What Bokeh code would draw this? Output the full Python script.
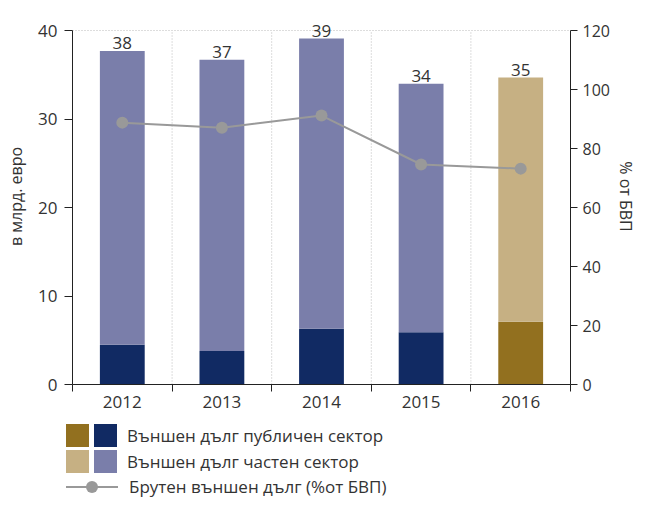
from bokeh.plotting import figure
from bokeh.models import Range1d, LinearAxis, FixedTicker, LabelSet, ColumnDataSource, Div
from bokeh.layouts import column
from bokeh.core.properties import value
from bokeh.embed import file_html
from bokeh.resources import INLINE

# ---- data ----
years = ["2012", "2013", "2014", "2015", "2016"]
public_debt = [4.5, 3.8, 6.3, 5.9, 7.1]          # bn EUR
private_debt = [33.2, 32.9, 32.8, 28.1, 27.6]    # bn EUR
gross_debt_pct = [88.8, 87.1, 91.2, 74.6, 73.2]  # % of GDP
public_colors = ["#112a63", "#112a63", "#112a63", "#112a63", "#92701f"]
private_colors = ["#7a7eaa", "#7a7eaa", "#7a7eaa", "#7a7eaa", "#c6b083"]
left_ticks = [0, 10, 20, 30, 40]
right_ticks = [0, 20, 40, 60, 80, 100, 120]
legend_labels = ["Външен дълг публичен сектор", "Външен дълг частен сектор",
                 "Брутен външен дълг (%от БВП)"]

FONT = "Open Sans"
TXT = "#333333"
AX = "#222222"

n = len(years)
xs = [i + 0.5 for i in range(n)]
bounds_x = list(range(1, n))
totals = [a + b for a, b in zip(public_debt, private_debt)]
src = ColumnDataSource(dict(
    x=xs, pub=public_debt, tot=totals, pct=gross_debt_pct,
    pc=public_colors, vc=private_colors,
    lab=[str(round(t)) for t in totals],
))

Y_TOP = 42.5  # headroom above 40 for the value labels
p = figure(frame_width=498, frame_height=376, min_border_left=72, min_border_right=64,
           min_border_top=8, min_border_bottom=32,
           x_range=Range1d(0, n), y_range=Range1d(0, Y_TOP),
           output_backend="svg", toolbar_location=None, tools="")
p.outline_line_color = None
p.extra_y_ranges = {"pct": Range1d(0, Y_TOP * 3)}

# dotted separators between categories, up to 40
p.segment(x0=bounds_x, y0=[0] * len(bounds_x), x1=bounds_x, y1=[40] * len(bounds_x),
          line_color="#bbbbbb", line_dash="1 2", line_width=1)

p.vbar(x="x", bottom=0, top="pub", width=0.45, fill_color="pc", line_color=None, source=src)
p.vbar(x="x", bottom="pub", top="tot", width=0.45, fill_color="vc", line_color=None, source=src)
p.line(x="x", y="pct", y_range_name="pct", line_color="#999999", line_width=2, source=src)
p.scatter(x="x", y="pct", y_range_name="pct", size=12, fill_color="#999999",
          line_color=None, source=src)

labels = LabelSet(x="x", y="tot", text="lab", source=src, y_offset=2,
                  text_align="center", text_baseline="bottom",
                  text_font=value(FONT), text_font_size="17px", text_color=TXT)
p.add_layout(labels)

# grids
p.xgrid.visible = False
p.ygrid.ticker = FixedTicker(ticks=[40])
p.ygrid.grid_line_color = "#bbbbbb"
p.ygrid.grid_line_dash = "1 2"

# x axis
xa = p.xaxis[0]
xa.ticker = FixedTicker(ticks=xs, minor_ticks=list(range(n + 1)))
xa.major_label_overrides = {x: y for x, y in zip(xs, years)}
xa.major_tick_out = 0
xa.major_tick_in = 0
xa.minor_tick_out = 7
xa.minor_tick_in = 0
xa.minor_tick_line_color = AX
xa.axis_line_color = AX
xa.major_label_standoff = 4
xa.major_label_text_font = FONT
xa.major_label_text_font_size = "17px"
xa.major_label_text_color = TXT

# left axis
ya = p.yaxis[0]
ya.ticker = FixedTicker(ticks=left_ticks)
ya.bounds = (0, 40)
ya.axis_label = "в млрд. евро"
ya.axis_label_text_font = FONT
ya.axis_label_text_font_size = "16px"
ya.axis_label_text_font_style = "normal"
ya.axis_label_text_color = TXT
ya.axis_label_standoff = 8
ya.major_tick_out = 8
ya.major_tick_in = 0
ya.minor_tick_out = 0
ya.minor_tick_in = 0
ya.axis_line_color = AX
ya.major_tick_line_color = AX
ya.major_label_standoff = 7
ya.major_label_text_font = FONT
ya.major_label_text_font_size = "17px"
ya.major_label_text_color = TXT

# right axis
ra = LinearAxis(y_range_name="pct", ticker=FixedTicker(ticks=right_ticks), bounds=(0, 120))
ra.axis_label = "% от БВП"
ra.axis_label_text_font = FONT
ra.axis_label_text_font_size = "16px"
ra.axis_label_text_font_style = "normal"
ra.axis_label_text_color = TXT
ra.axis_label_standoff = 2
ra.major_tick_out = 7
ra.major_tick_in = 0
ra.minor_tick_out = 0
ra.minor_tick_in = 0
ra.axis_line_color = AX
ra.major_tick_line_color = AX
ra.major_label_standoff = 5
ra.major_label_text_font = FONT
ra.major_label_text_font_size = "16px"
ra.major_label_text_color = TXT
p.add_layout(ra, "right")

# ---- legend (HTML) ----
def sq(left, top, color):
    return (f'<div style="position:absolute;left:{left}px;top:{top}px;width:23px;'
            f'height:23px;background:{color}"></div>')

def txt(left, cy, s):
    return (f'<div style="position:absolute;left:{left}px;top:{cy - 10}px;height:20px;'
            f'line-height:20px;white-space:nowrap">{s}</div>')

items = [
    sq(66, 8, public_colors[-1]), sq(94, 8, public_colors[0]), txt(127, 19.5, legend_labels[0]),
    sq(66, 34, private_colors[-1]), sq(94, 34, private_colors[0]), txt(127, 45.5, legend_labels[1]),
    '<div style="position:absolute;left:66px;top:70px;width:52px;height:2px;background:#999999"></div>',
    '<div style="position:absolute;left:86px;top:65px;width:12px;height:12px;'
    'border-radius:50%;background:#999999"></div>',
    txt(129, 71, legend_labels[2]),
]
html = (f'<div style="position:relative;width:634px;height:80px;font-family:\'{FONT}\';'
        f'font-size:17px;color:{TXT}">' + "".join(items) + '</div>')
lg = Div(text=html, width=634, height=80, margin=(0, 0, 0, 0))

layout = column(p, lg, spacing=0)
open("out.html", "w").write(file_html(layout, INLINE))
